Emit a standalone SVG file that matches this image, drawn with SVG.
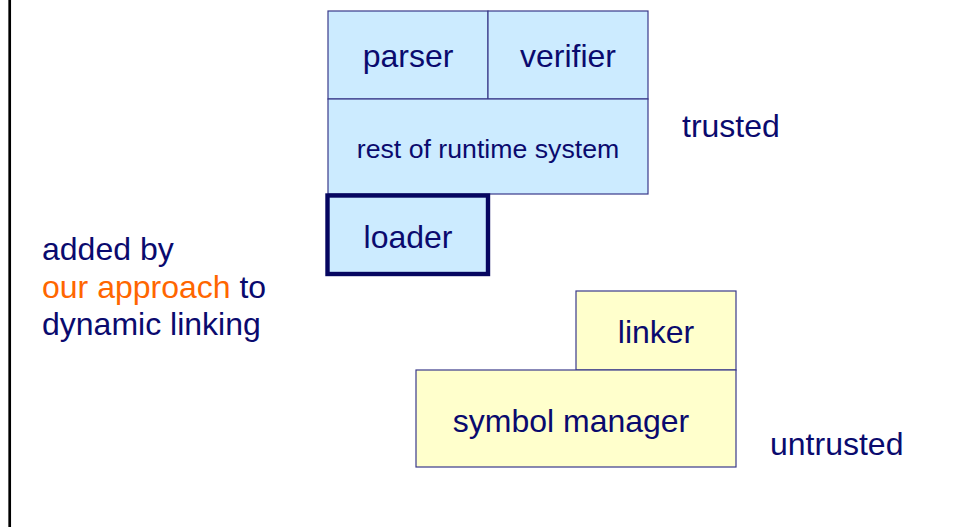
<svg xmlns="http://www.w3.org/2000/svg" width="959" height="527" viewBox="0 0 959 527">
<style>
text{font-family:"Liberation Sans",Arial,sans-serif;font-size:32px;fill:#0a0a6e}
.c{text-anchor:middle}
.blue{fill:#ccebff;stroke:#3a3a8a;stroke-width:1.2}
.yel{fill:#ffffcc;stroke:#3a3a8a;stroke-width:1.2}
.or{fill:#ff6600}
</style>
<rect width="959" height="527" fill="#ffffff"/>
<line x1="9.7" y1="0" x2="9.7" y2="527" stroke="#000" stroke-width="2.7"/>
<g id="parser"><rect class="blue" x="328" y="11" width="160" height="88"/><text class="c" x="408" y="67">parser</text></g>
<g id="verifier"><rect class="blue" x="488" y="11" width="160" height="88"/><text class="c" x="568" y="67">verifier</text></g>
<g id="runtime"><rect class="blue" x="328" y="99" width="320" height="95"/><text class="c" x="488" y="158" style="font-size:26.7px">rest of runtime system</text></g>
<g id="loader"><rect x="327.5" y="195.5" width="160.5" height="78.5" fill="#ccebff" stroke="#060660" stroke-width="4.4"/><text class="c" x="408" y="248">loader</text></g>
<g id="linker"><rect class="yel" x="576" y="291" width="160" height="79"/><text class="c" x="656" y="343">linker</text></g>
<g id="symbol"><rect class="yel" x="416" y="370" width="320" height="97"/><text class="c" x="571" y="432">symbol manager</text></g>
<g id="labels">
<text x="682" y="137">trusted</text>
<text x="770" y="455">untrusted</text>
<text x="42" y="260">added by</text>
<text x="42" y="298"><tspan class="or">our approach</tspan> to</text>
<text x="42" y="335">dynamic linking</text>
</g>
<g id="connectors"></g>
</svg>
